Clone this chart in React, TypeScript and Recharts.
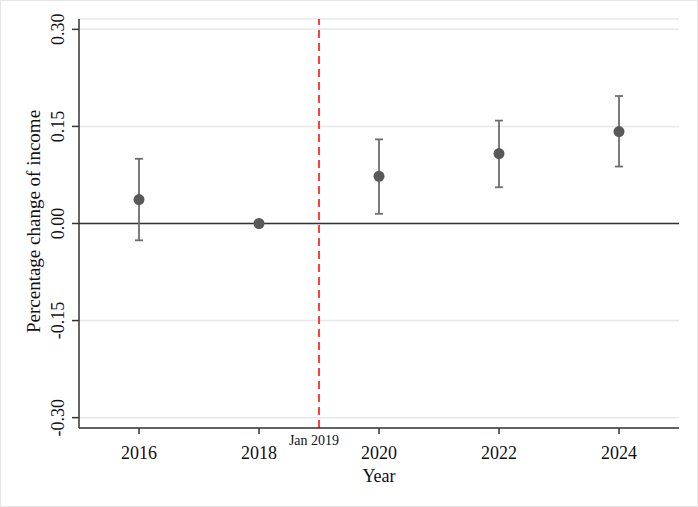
import { ComposedChart, Scatter, ErrorBar, XAxis, YAxis, CartesianGrid, ReferenceLine } from "recharts"

// Event-study estimates
const years = [2016, 2018, 2020, 2022, 2024]
const estimates = [0.037, 0, 0.073, 0.108, 0.142]
const ciLower = [-0.026, 0, 0.015, 0.056, 0.088]
const ciUpper = [0.1, 0, 0.13, 0.159, 0.197]
const yTicks = [-0.3, -0.15, 0, 0.15, 0.3]
const treatmentYear = 2019
const treatmentLabel = "Jan 2019"

const FONT = "Liberation Serif, Times New Roman, serif"

const data = years.map((year, i) => ({
  year,
  est: estimates[i],
  err: [estimates[i] - ciLower[i], ciUpper[i] - estimates[i]],
}))

function YTick({ x, y, payload }: any) {
  return (
    <text
      x={x - 6}
      y={y}
      transform={`rotate(-90, ${x - 6}, ${y})`}
      textAnchor="middle"
      fontSize={18}
      fontFamily={FONT}
      fill="#111"
    >
      {payload.value.toFixed(2)}
    </text>
  )
}

function XTick({ x, y, payload }: any) {
  return (
    <text x={x} y={y + 23} textAnchor="middle" fontSize={18} fontFamily={FONT} fill="#111">
      {payload.value}
    </text>
  )
}

function Dot({ cx, cy }: any) {
  return <circle cx={cx} cy={cy} r={5.5} fill="#595959" />
}

export default function App() {
  return (
    <div style={{ position: "absolute", left: 0, top: 0, width: 698, height: 507, background: "#fff" }}>
      <svg width={698} height={507} style={{ position: "absolute", left: 0, top: 0 }}>
        <rect x={0.5} y={0.5} width={697} height={506} fill="none" stroke="#e6e6e6" />
      </svg>
      <div style={{ position: "absolute", left: 0, top: 0 }}>
        <ComposedChart width={698} height={507} data={data} margin={{ top: 19, right: 19, bottom: 49, left: 10 }}>
          <CartesianGrid vertical={false} stroke="#e8e8e8" strokeWidth={1.5} />
          <XAxis
            dataKey="year"
            type="number"
            domain={[2015, 2025]}
            ticks={years}
            tick={<XTick />}
            tickSize={6}
            height={30}
            stroke="#333"
            strokeWidth={1.5}
            tickLine={{ stroke: "#333", strokeWidth: 1.5 }}
            label={({ viewBox }: any) => (
              <text
                x={viewBox.x + viewBox.width / 2}
                y={viewBox.y + 54}
                textAnchor="middle"
                fontSize={18}
                fontFamily={FONT}
                fill="#111"
              >
                Year
              </text>
            )}
          />
          <YAxis
            type="number"
            domain={[-0.316, 0.316]}
            allowDataOverflow
            ticks={yTicks}
            tick={<YTick />}
            tickSize={7}
            width={69}
            stroke="#333"
            strokeWidth={1.5}
            tickLine={{ stroke: "#333", strokeWidth: 1.5 }}
            label={({ viewBox }: any) => {
              const lx = 40
              const ly = viewBox.y + viewBox.height / 2 - 2
              return (
                <text
                  x={lx}
                  y={ly}
                  transform={`rotate(-90, ${lx}, ${ly})`}
                  textAnchor="middle"
                  fontSize={19}
                  fontFamily={FONT}
                  fill="#111"
                >
                  Percentage change of income
                </text>
              )
            }}
          />
          <ReferenceLine y={0} stroke="#333" strokeWidth={1.5} />
          <ReferenceLine
            x={treatmentYear}
            stroke="#ff0000"
            strokeWidth={1.5}
            strokeDasharray="8 5"
            label={({ viewBox }: any) => (
              <text
                x={viewBox.x - 5}
                y={viewBox.y + viewBox.height + 17}
                textAnchor="middle"
                fontSize={14}
                fontFamily={FONT}
                fill="#111"
              >
                {treatmentLabel}
              </text>
            )}
          />
          <Scatter dataKey="est" shape={<Dot />} isAnimationActive={false}>
            <ErrorBar dataKey="err" direction="y" width={4} stroke="#6e6e6e" strokeWidth={1.8} isAnimationActive={false} />
          </Scatter>
        </ComposedChart>
      </div>
    </div>
  )
}
